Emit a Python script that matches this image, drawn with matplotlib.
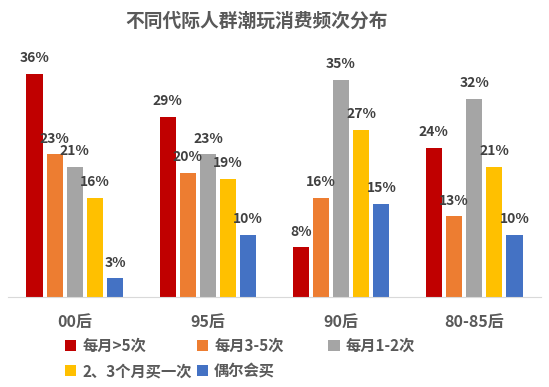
import numpy as np
import matplotlib.pyplot as plt

plt.rcParams['font.family'] = ['Noto Sans CJK SC', 'DejaVu Sans']

groups = ["00后", "95后", "90后", "80-85后"]
series = ["每月>5次", "每月3-5次", "每月1-2次", "2、3个月买一次", "偶尔会买"]
colors = ["#C00000", "#ED7D31", "#A5A5A5", "#FFC000", "#4472C4"]
values = [
    [36, 29, 8, 24],
    [23, 20, 16, 13],
    [21, 23, 35, 32],
    [16, 19, 27, 21],
    [3, 10, 15, 10],
]

fig = plt.figure(figsize=(5.49, 3.87), dpi=100)
ax = fig.add_axes([0.015, 0.2326, 0.97, 0.641])

x = np.arange(len(groups))
w = 0.121
step = 0.1515
handles = []
for i, (name, c, v) in enumerate(zip(series, colors, values)):
    pos = x + (i - 2) * step
    bars = ax.bar(pos, v, width=w, color=c, label=name)
    handles.append(bars)
    for b, val in zip(bars, v):
        ax.text(b.get_x() + b.get_width() / 2, val + 1.4, f"{val}%",
                ha='center', va='bottom', fontsize=10, fontweight='bold',
                color='#404040')

ax.set_xlim(-0.5, 3.5)
ax.set_ylim(0, 40)
ax.set_yticks([])
ax.set_xticks(x)
ax.set_xticklabels(groups, fontsize=11.5, fontweight='bold', color='#595959')
ax.tick_params(axis='x', length=0, pad=12)
for s in ['top', 'left', 'right']:
    ax.spines[s].set_visible(False)
ax.spines['bottom'].set_color('#D9D9D9')

fig.suptitle("不同代际人群潮玩消费频次分布", x=0.468, y=0.97, fontsize=13.5,
             fontweight='bold', color='#595959')

# legend: fixed-width columns, filled row by row
cols = [[0, 3], [1, 4], [2]]
col_x = [0.093, 0.333, 0.573]
for idx, cx in zip(cols, col_x):
    leg = fig.legend([handles[k] for k in idx], [series[k] for k in idx],
                     loc='upper left', bbox_to_anchor=(cx, 0.162), ncol=1,
                     frameon=False, handlelength=0.75, handleheight=0.75,
                     handletextpad=0.4, labelspacing=0.6,
                     prop={'size': 11, 'weight': 'bold'})
    for t in leg.get_texts():
        t.set_color('#595959')

fig.savefig("out.png", dpi=100)
